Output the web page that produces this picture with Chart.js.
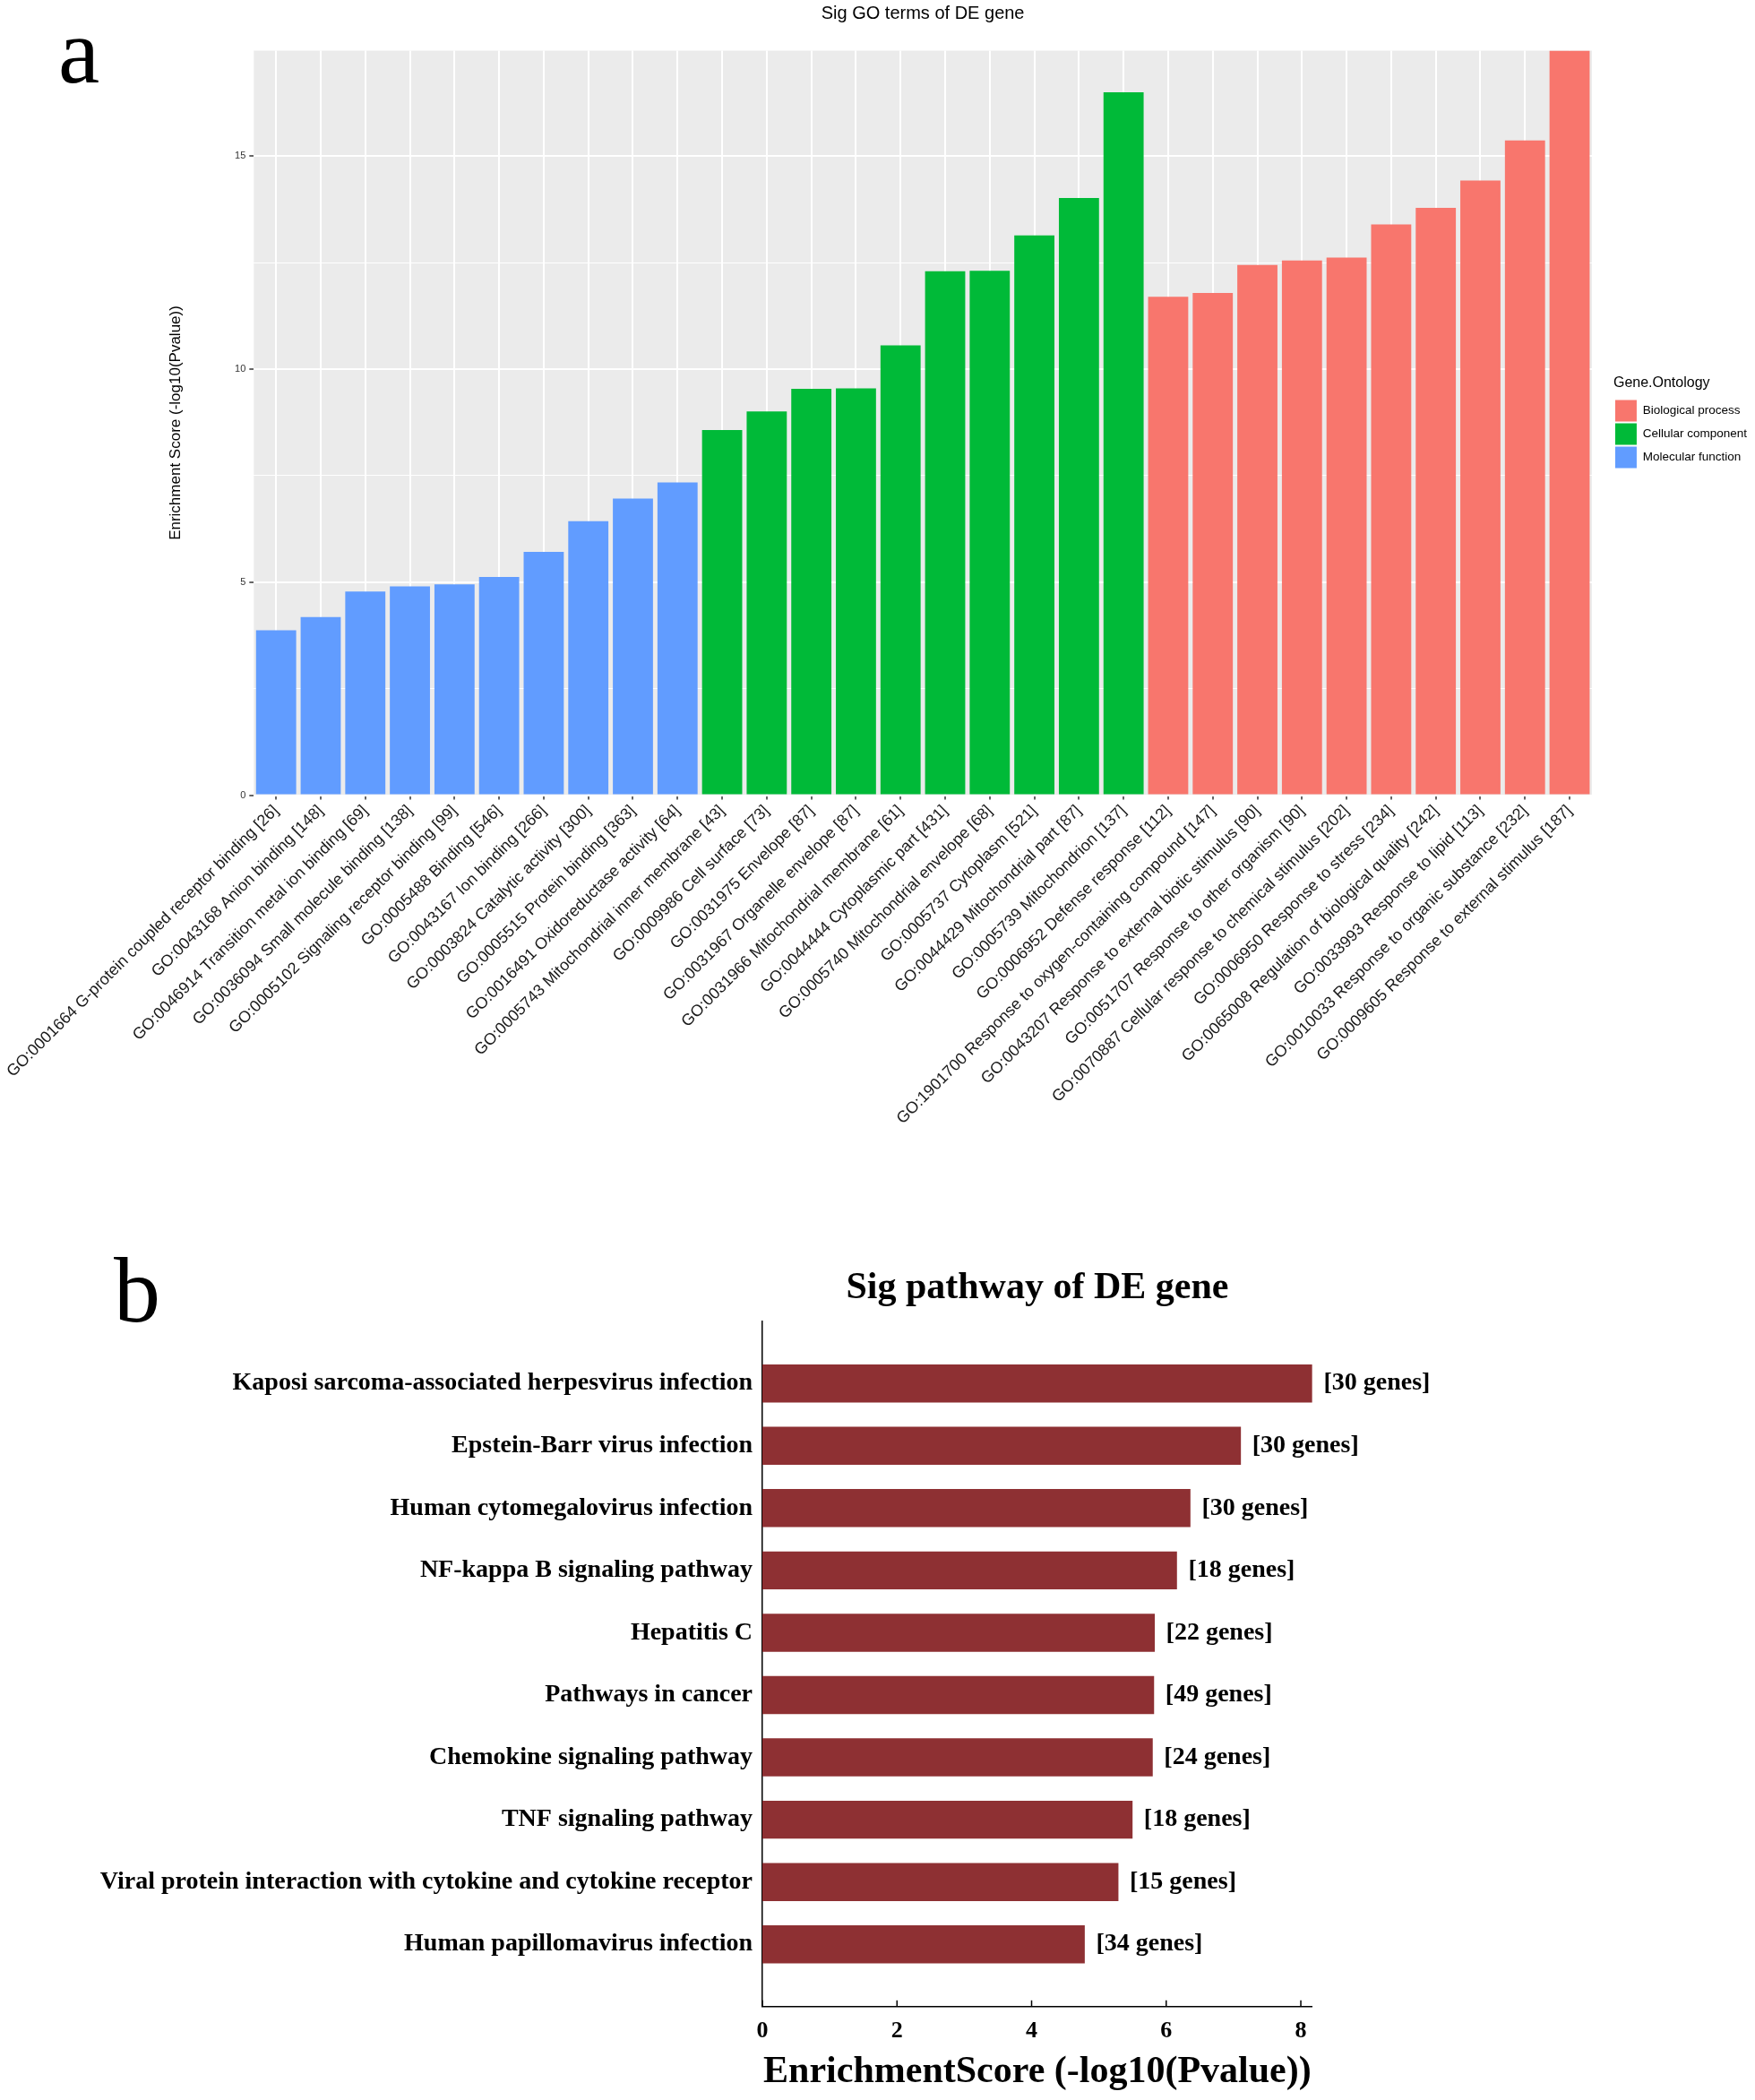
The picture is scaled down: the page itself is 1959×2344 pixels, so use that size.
<!DOCTYPE html>
<html><head><meta charset="utf-8">
<script src="https://cdn.jsdelivr.net/npm/chart.js@4.4.1/dist/chart.umd.min.js"></script>
<style>
html,body{margin:0;padding:0;background:#fff;}
body{width:1959px;height:2344px;position:relative;overflow:hidden;}
#ca{position:absolute;left:0;top:0;}
#cb{position:absolute;left:0;top:1340px;}
.panel{position:absolute;font-family:'Liberation Serif','Times New Roman',serif;font-size:104px;line-height:1;color:#000;}
</style></head><body>
<canvas id="ca" width="1959" height="1330"></canvas>
<canvas id="cb" width="1959" height="1004"></canvas>
<div class="panel" style="left:65px;top:5px">a</div>
<div class="panel" style="left:127px;top:1388px">b</div>
<script>
// ---------- Panel a: GO terms ----------
const mfTerms = [
  'GO:0001664 G-protein coupled receptor binding [26]',
  'GO:0043168 Anion binding [148]',
  'GO:0046914 Transition metal ion binding [69]',
  'GO:0036094 Small molecule binding [138]',
  'GO:0005102 Signaling receptor binding [99]',
  'GO:0005488 Binding [546]',
  'GO:0043167 Ion binding [266]',
  'GO:0003824 Catalytic activity [300]',
  'GO:0005515 Protein binding [363]',
  'GO:0016491 Oxidoreductase activity [64]'
];
const mfScores = [3.87, 4.18, 4.78, 4.90, 4.95, 5.12, 5.71, 6.43, 6.96, 7.34];

const ccTerms = [
  'GO:0005743 Mitochondrial inner membrane [43]',
  'GO:0009986 Cell surface [73]',
  'GO:0031975 Envelope [87]',
  'GO:0031967 Organelle envelope [87]',
  'GO:0031966 Mitochondrial membrane [61]',
  'GO:0044444 Cytoplasmic part [431]',
  'GO:0005740 Mitochondrial envelope [68]',
  'GO:0005737 Cytoplasm [521]',
  'GO:0044429 Mitochondrial part [87]',
  'GO:0005739 Mitochondrion [137]'
];
const ccScores = [8.57, 9.01, 9.54, 9.55, 10.56, 12.30, 12.31, 13.14, 14.02, 16.50];

const bpTerms = [
  'GO:0006952 Defense response [112]',
  'GO:1901700 Response to oxygen-containing compound [147]',
  'GO:0043207 Response to external biotic stimulus [90]',
  'GO:0051707 Response to other organism [90]',
  'GO:0070887 Cellular response to chemical stimulus [202]',
  'GO:0006950 Response to stress [234]',
  'GO:0065008 Regulation of biological quality [242]',
  'GO:0033993 Response to lipid [113]',
  'GO:0010033 Response to organic substance [232]',
  'GO:0009605 Response to external stimulus [187]'
];
const bpScores = [11.70, 11.79, 12.45, 12.55, 12.62, 13.40, 13.79, 14.43, 15.37, 17.48];

const ontologyNames = ['Biological process', 'Cellular component', 'Molecular function'];
const yTicksMajor = [0, 5, 10, 15];

// ---------- Panel b: pathways ----------
const pathways = [
  'Kaposi sarcoma-associated herpesvirus infection',
  'Epstein-Barr virus infection',
  'Human cytomegalovirus infection',
  'NF-kappa B signaling pathway',
  'Hepatitis C',
  'Pathways in cancer',
  'Chemokine signaling pathway',
  'TNF signaling pathway',
  'Viral protein interaction with cytokine and cytokine receptor',
  'Human papillomavirus infection'
];
const pathwayScores = [8.17, 7.11, 6.36, 6.16, 5.83, 5.82, 5.80, 5.50, 5.29, 4.79];
const geneCounts = [30, 30, 30, 18, 22, 49, 24, 18, 15, 34];
const xTicksB = [0, 2, 4, 6, 8];

// ---------- build chart a ----------
const goLabels = [...mfTerms, ...ccTerms, ...bpTerms];
const nMF = mfTerms.length, nCC = ccTerms.length, nBP = bpTerms.length;
const padNulls = (arr, before, after) => [...Array(before).fill(null), ...arr, ...Array(after).fill(null)];
const yMaxA = Math.max(...mfScores, ...ccScores, ...bpScores);

const panelBg = {
  id: 'panelBg',
  beforeDraw(chart) {
    const {ctx, chartArea: a} = chart;
    ctx.save();
    ctx.fillStyle = '#EBEBEB';
    ctx.fillRect(a.left, a.top, a.right - a.left, a.bottom - a.top);
    ctx.restore();
  }
};
const legendShift = {
  id: 'legendShift',
  afterLayout(chart) {
    if (chart.legend) { chart.legend.left += 24; chart.legend.right += 24; }
  }
};

Chart.defaults.font.family = "'Liberation Sans', Arial, sans-serif";

new Chart(document.getElementById('ca'), {
  type: 'bar',
  data: {
    labels: goLabels,
    datasets: [
      {label: ontologyNames[0], data: padNulls(bpScores, nMF + nCC, 0), backgroundColor: '#F8766D'},
      {label: ontologyNames[1], data: padNulls(ccScores, nMF, nBP), backgroundColor: '#00BA38'},
      {label: ontologyNames[2], data: padNulls(mfScores, 0, nCC + nBP), backgroundColor: '#619CFF'}
    ]
  },
  options: {
    responsive: false,
    animation: false,
    layout: {padding: {left: 0, right: 23, top: 0, bottom: 0}},
    datasets: {bar: {grouped: false, barPercentage: 0.9, categoryPercentage: 1, borderWidth: 0}},
    scales: {
      x: {
        offset: true,
        grid: {color: '#FFFFFF', lineWidth: 2, offset: false, drawTicks: true, tickLength: 5, tickColor: '#333333', tickWidth: 1.5},
        border: {display: false},
        ticks: {autoSkip: false, minRotation: 45, maxRotation: 45, padding: 2, color: '#1A1A1A',
                font: {family: "'Liberation Sans', Arial, sans-serif", size: 18}},
        afterFit: (s) => { s.height = 1330 - 887.5; s.paddingLeft = 0; s.paddingRight = 0; }
      },
      y: {
        min: 0, max: yMaxA,
        ticks: {stepSize: 2.5, includeBounds: false, padding: 4, color: '#333333',
                font: {family: "'Liberation Sans', Arial, sans-serif", size: 11},
                callback: (v) => yTicksMajor.includes(v) ? String(v) : ''},
        grid: {
          color: '#FFFFFF',
          lineWidth: (c) => (c.tick && yTicksMajor.includes(c.tick.value)) ? 2 : 1,
          tickLength: 5,
          tickColor: (c) => (c.tick && yTicksMajor.includes(c.tick.value)) ? '#333333' : 'rgba(0,0,0,0)',
          tickWidth: 1.5
        },
        border: {display: false},
        title: {display: true, text: 'Enrichment Score (-log10(Pvalue))', color: '#000',
                font: {family: "'Liberation Sans', Arial, sans-serif", size: 17}, padding: {top: 185.8, bottom: 0}},
        afterFit: (s) => { s.width = 283.3; s.paddingTop = 0; s.paddingBottom = 0; }
      }
    },
    plugins: {
      title: {display: true, text: 'Sig GO terms of DE gene', fullSize: false, color: '#000',
              font: {family: "'Liberation Sans', Arial, sans-serif", size: 20, weight: 'normal'},
              padding: {top: 3, bottom: 29.5}},
      legend: {
        position: 'right', align: 'center', fullSize: false,
        title: {display: true, text: 'Gene.Ontology', position: 'start', color: '#000',
                font: {family: "'Liberation Sans', Arial, sans-serif", size: 16}, padding: {top: 0, bottom: 6}},
        labels: {boxWidth: 24, boxHeight: 24, padding: 2, color: '#000',
                 font: {family: "'Liberation Sans', Arial, sans-serif", size: 13.5}}
      },
      tooltip: {enabled: false}
    }
  },
  plugins: [panelBg, legendShift]
});

// ---------- build chart b ----------
const barLabels = {
  id: 'barLabels',
  afterDatasetsDraw(chart) {
    const {ctx} = chart;
    const meta = chart.getDatasetMeta(0);
    ctx.save();
    ctx.font = "bold 28px 'Liberation Serif', 'Times New Roman', serif";
    ctx.fillStyle = '#000';
    ctx.textAlign = 'left';
    ctx.textBaseline = 'middle';
    meta.data.forEach((bar, i) => {
      ctx.fillText('[' + geneCounts[i] + ' genes]', bar.x + 12.6, bar.y);
    });
    ctx.restore();
  }
};
const innerTicks = {
  id: 'innerTicks',
  afterDraw(chart) {
    const s = chart.scales.x;
    const {ctx} = chart;
    ctx.save();
    ctx.strokeStyle = '#000';
    ctx.lineWidth = 1.5;
    xTicksB.forEach((v) => {
      const px = s.getPixelForValue(v);
      ctx.beginPath();
      ctx.moveTo(px, s.top);
      ctx.lineTo(px, s.top - 7);
      ctx.stroke();
    });
    ctx.restore();
  }
};

const serif = "'Liberation Serif', 'Times New Roman', serif";
new Chart(document.getElementById('cb'), {
  type: 'bar',
  data: {
    labels: pathways,
    datasets: [{data: pathwayScores, backgroundColor: '#8E3033', borderWidth: 0, barPercentage: 0.61, categoryPercentage: 1}]
  },
  options: {
    indexAxis: 'y',
    responsive: false,
    animation: false,
    layout: {padding: {left: 0, right: 494.2, top: 0, bottom: 0}},
    scales: {
      y: {
        type: 'category',
        grid: {display: false, drawTicks: false},
        border: {display: true, color: '#000', width: 1.5},
        ticks: {padding: 11, color: '#000', autoSkip: false, font: {family: serif, size: 28, weight: 'bold'}},
        afterFit: (s) => { s.width = 851; s.paddingTop = 0; s.paddingBottom = 0; },
        afterUpdate: (s) => { s._startValue = -1; s._valueRange = s.getLabels().length + 1; }
      },
      x: {
        min: 0, max: Math.max(...pathwayScores),
        grid: {display: false, drawTicks: false},
        border: {display: true, color: '#000', width: 1.5},
        ticks: {stepSize: 2, includeBounds: false, padding: 11.6, color: '#000', font: {family: serif, size: 26, weight: 'bold'}},
        title: {display: true, text: 'EnrichmentScore (-log10(Pvalue))', color: '#000',
                font: {family: serif, size: 42, weight: 'bold'}, padding: {top: 0, bottom: 5.8}},
        afterFit: (s) => { s.height = 104.2; s.paddingLeft = 0; s.paddingRight = 0; }
      }
    },
    plugins: {
      legend: {display: false},
      tooltip: {enabled: false},
      title: {display: true, text: 'Sig pathway of DE gene', fullSize: false, color: '#000',
              font: {family: serif, size: 42, weight: 'bold'}, padding: {top: 72.8, bottom: 11.4}}
    }
  },
  plugins: [barLabels, innerTicks]
});
</script>
</body></html>
